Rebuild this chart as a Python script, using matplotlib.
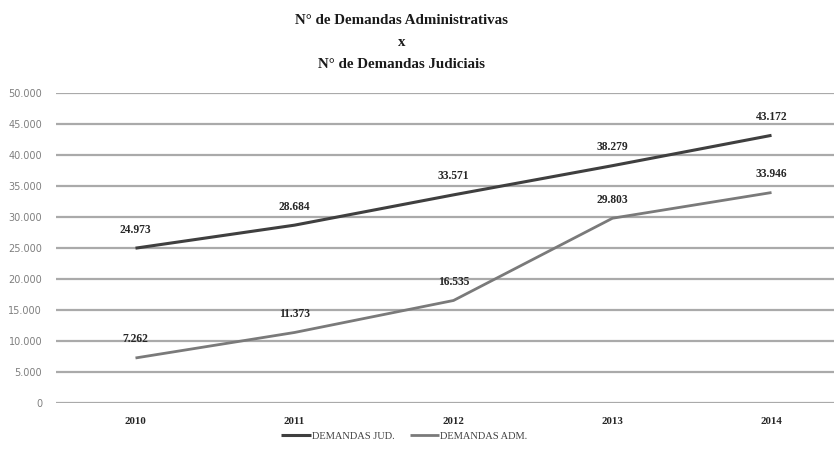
import matplotlib
matplotlib.use("Agg")
import matplotlib.pyplot as plt
from matplotlib.ticker import FuncFormatter

years = ["2010", "2011", "2012", "2013", "2014"]
jud = [24973, 28684, 33571, 38279, 43172]
adm = [7262, 11373, 16535, 29803, 33946]
jud_labels = ["24.973", "28.684", "33.571", "38.279", "43.172"]
adm_labels = ["7.262", "11.373", "16.535", "29.803", "33.946"]
yticks = list(range(0, 50001, 5000))

W, H = 834, 455
fig = plt.figure(figsize=(W / 100, H / 100), dpi=100)
left, right, bottom, top = 56, 834, 403, 93
ax = fig.add_axes([left / W, 1 - bottom / H, (right - left) / W, (bottom - top) / H])

serif = ["Liberation Serif", "DejaVu Serif"]
x = list(range(len(years)))
ax.plot(x, jud, color="#3f3f3f", lw=2.2, solid_capstyle="butt", zorder=3, label="DEMANDAS JUD.")
ax.plot(x, adm, color="#7a7a7a", lw=2.0, solid_capstyle="butt", zorder=3, label="DEMANDAS ADM.")

for xi, v, t in zip(x, jud, jud_labels):
    ax.annotate(t, (xi, v), xytext=(0, 9), textcoords="offset points", ha="center", va="bottom",
                fontsize=8.3, fontweight="bold", family=serif, color="#262626")
for xi, v, t in zip(x, adm, adm_labels):
    ax.annotate(t, (xi, v), xytext=(0, 9), textcoords="offset points", ha="center", va="bottom",
                fontsize=8.3, fontweight="bold", family=serif, color="#262626")

ax.set_xlim(-0.5, 4.393)
ax.set_ylim(0, 50000)
ax.set_yticks(yticks)
ax.yaxis.set_major_formatter(FuncFormatter(lambda v, p: f"{int(v):,}".replace(",", ".")))
ax.set_xticks(x)
ax.set_xticklabels(years, family=serif, fontweight="bold", fontsize=7.8, color="#262626")
ax.tick_params(axis="y", length=0, pad=10, labelsize=7, labelcolor="#7f7f7f")
ax.tick_params(axis="x", length=0, pad=10)
ax.grid(axis="y", color="#aaaaaa", lw=1.6)
ax.set_axisbelow(True)
for s in ax.spines.values():
    s.set_visible(False)

for yy, txt in [(20, "N° de Demandas Administrativas"), (42, "x"), (64, "N° de Demandas Judiciais")]:
    fig.text(0.482, 1 - yy / H, txt, ha="center", va="center",
             fontsize=10.8, fontweight="bold", family=serif, color="#1a1a1a")

leg = fig.legend(loc="center", bbox_to_anchor=(0.485, 1 - 436 / H), ncol=2, frameon=False,
                 prop={"family": serif, "size": 7.5}, handlelength=2.8, columnspacing=1.5,
                 handletextpad=0.1)
for t in leg.get_texts():
    t.set_color("#404040")

fig.savefig("out.png", dpi=100, facecolor="white")
